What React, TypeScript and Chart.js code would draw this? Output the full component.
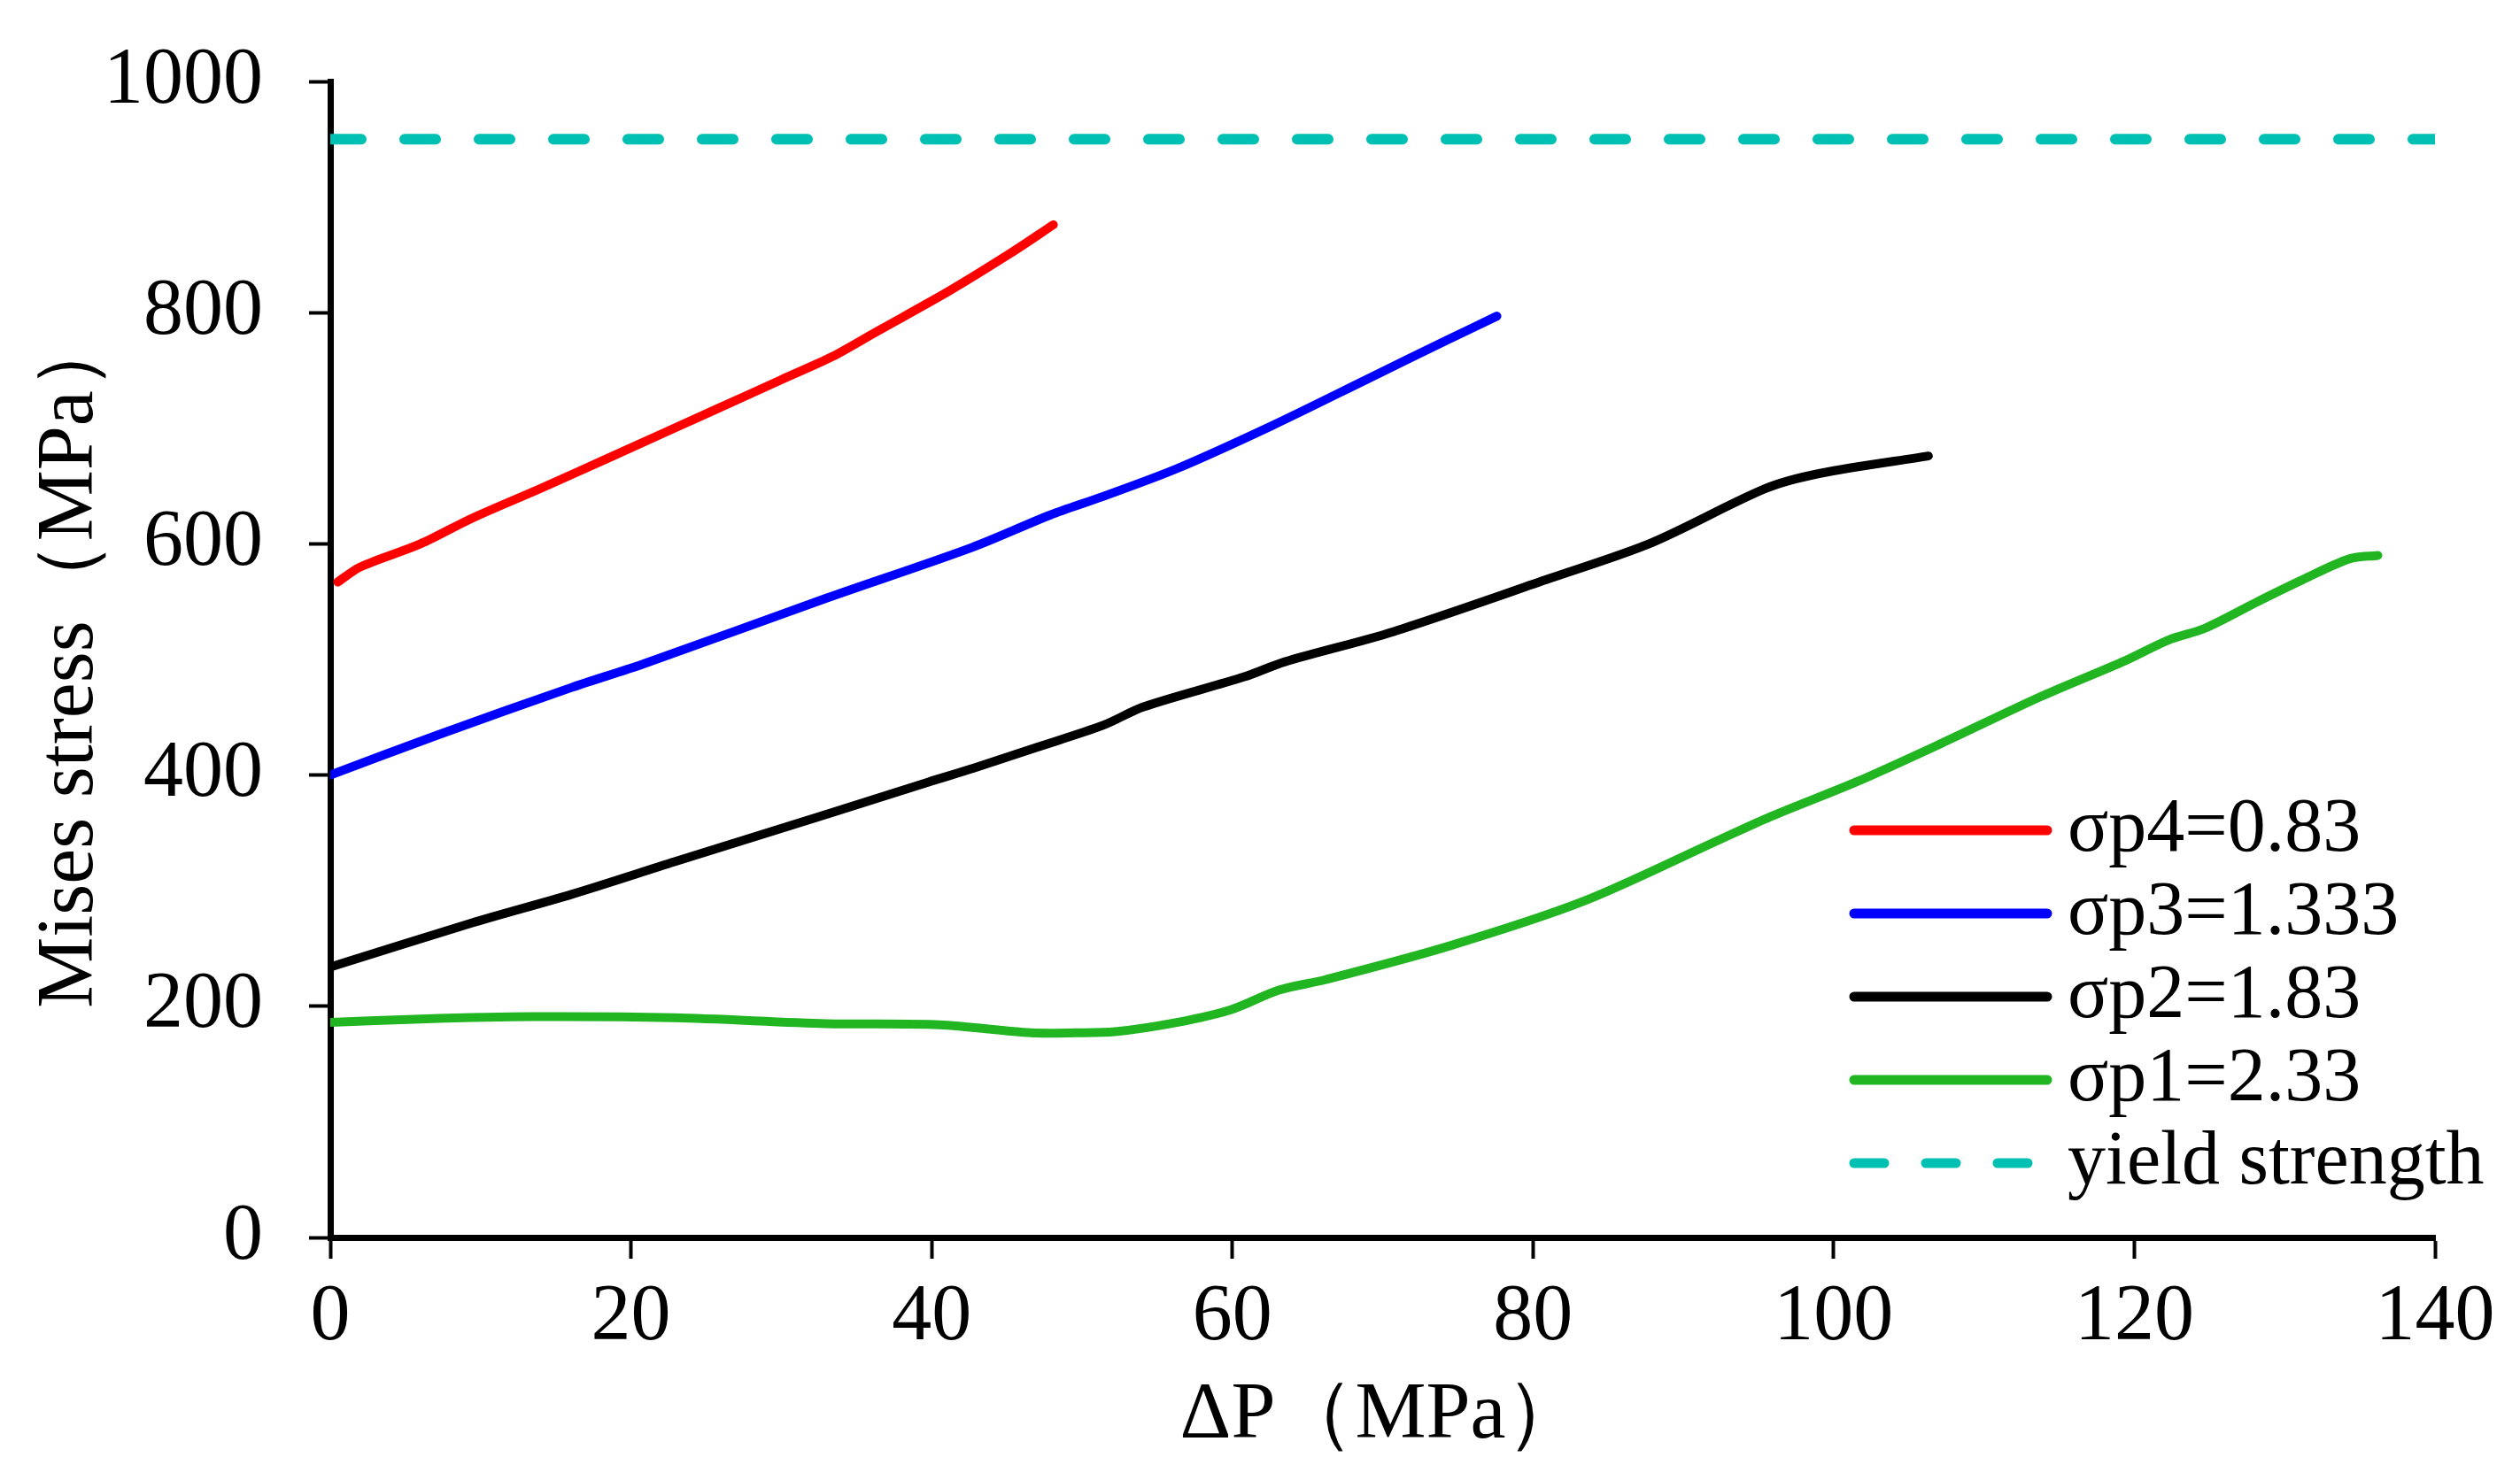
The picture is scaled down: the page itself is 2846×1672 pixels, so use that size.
import { useEffect, useRef } from 'react';
import { Chart, registerables } from 'chart.js';

Chart.register(...registerables);

// σp4 = 0.83
const p4X = [0.5, 2, 6, 9.4, 14, 18.8, 25.6, 30, 33.4, 36.4, 41.2, 45.2, 48.1];
const p4Y = [567, 580, 600, 622, 648, 676, 716, 742, 762, 784, 819, 851, 876];
// σp3 = 1.333
const p3X = [0, 7, 16.1, 20.8, 33, 42.7, 47.9, 51.4, 56.3, 62.6, 68.9, 74.4, 77.6];
const p3Y = [400, 434, 476, 496, 553, 597, 625, 641, 665, 702, 742, 777, 797];
// σp2 = 1.83
const p2X = [0, 9.4, 16.1, 22.9, 33, 39.8, 42.8, 47, 51.4, 54.1, 60.8, 63.5, 70.7, 81.1, 87.9, 95.5, 99.1, 106.3];
const p2Y = [234, 272, 297, 325, 366, 394, 406, 424, 443, 459, 485, 498, 524, 570, 601, 648, 661, 676];
// σp1 = 2.33
const p1X = [0, 6, 13.4, 22.9, 33, 40.5, 46.6, 49.6, 52.2, 56.3, 59.9, 63.1, 66.2, 74.4, 83.4, 92.4, 95.8, 101.5, 107.1, 113.8, 119.4, 122.3, 124.7, 128.2, 131.2, 134.3, 136.2];
const p1Y = [186, 189, 191, 190, 185, 184, 177, 177, 178, 186, 197, 214, 223, 252, 291, 344, 364, 394, 427, 468, 499, 517, 527, 550, 569, 587, 590];
// yield strength
const yieldX = [0, 140];
const yieldY = [950, 950];

const seriesLabels = ['σp4=0.83', 'σp3=1.333', 'σp2=1.83', 'σp1=2.33', 'yield strength'];

const FONT = "'Liberation Serif', 'Times New Roman', serif";
const pts = (xs: number[], ys: number[]) => xs.map((x, i) => ({ x, y: ys[i] }));

const insideLegend = {
  id: 'insideLegend',
  afterDraw(chart: any) {
    const { ctx, chartArea: a } = chart;
    const x0 = a.right - 656, x1 = a.right - 438, tx = a.right - 415;
    let y = a.bottom - 460;
    ctx.save();
    ctx.font = `86px ${FONT}`;
    ctx.textBaseline = 'middle';
    ctx.fillStyle = '#000';
    chart.data.datasets.forEach((ds: any) => {
      ctx.beginPath();
      ctx.strokeStyle = ds.borderColor;
      ctx.lineWidth = 11;
      ctx.lineCap = 'round';
      ctx.setLineDash(ds.borderDash ? [34, 47] : []);
      ctx.moveTo(x0, y);
      ctx.lineTo(x1, y);
      ctx.stroke();
      ctx.fillText(ds.label, tx, y);
      y += 94;
    });
    ctx.restore();
  }
};

export default function App() {
  const ref = useRef<HTMLCanvasElement>(null);
  const ci = useRef<Chart | null>(null);

  useEffect(() => {
    if (!ref.current) return;
    ci.current?.destroy();
    const line = (i: number, data: any, color: string) => ({
      label: seriesLabels[i], data, borderColor: color, backgroundColor: color,
      borderWidth: 10, pointRadius: 0, tension: 0.3, borderCapStyle: 'round', fill: false
    });
    ci.current = new Chart(ref.current, {
      type: 'line',
      data: {
        datasets: [
          line(0, pts(p4X, p4Y), '#ff0000'),
          line(1, pts(p3X, p3Y), '#0000ff'),
          line(2, pts(p2X, p2Y), '#000000'),
          line(3, pts(p1X, p1Y), '#22b522'),
          { ...line(4, pts(yieldX, yieldY), '#00bfb3'), borderWidth: 12, tension: 0, borderDash: [35, 49] }
        ] as any
      },
      options: {
        animation: false, responsive: true, maintainAspectRatio: false,
        layout: { padding: { top: 92, right: 96, left: 0, bottom: 0 } },
        plugins: { legend: { display: false }, tooltip: { enabled: false } },
        scales: {
          x: {
            type: 'linear', min: 0, max: 140,
            ticks: { stepSize: 20, font: { family: FONT, size: 90 }, color: '#000', padding: 13, maxRotation: 0, callback: (v: any) => String(v) },
            grid: { drawOnChartArea: false, tickLength: 24, tickWidth: 4, tickColor: '#000' },
            border: { color: '#000', width: 7 },
            title: { display: true, text: 'ΔP（MPa）', font: { family: FONT, size: 90 }, color: '#000', padding: { top: 0, bottom: 18 } },
            afterFit: (s: any) => { s.height = 274; }
          },
          y: {
            min: 0, max: 1000,
            ticks: { stepSize: 200, font: { family: FONT, size: 90 }, color: '#000', padding: 52, callback: (v: any) => String(v) },
            grid: { drawOnChartArea: false, tickLength: 24, tickWidth: 4, tickColor: '#000' },
            border: { color: '#000', width: 7 },
            title: { display: true, text: 'Mises stress（MPa）', font: { family: FONT, size: 90 }, color: '#000', padding: { top: 26, bottom: 0 } },
            afterFit: (s: any) => { s.width = 373; s.paddingTop = 0; s.paddingBottom = 0; }
          }
        }
      },
      plugins: [insideLegend]
    });
    return () => { ci.current?.destroy(); ci.current = null; };
  }, []);

  return (
    <div style={{ position: 'fixed', left: 0, top: 0, width: '100vw', height: '100vh', background: '#fff' }}>
      <canvas ref={ref} />
    </div>
  );
}
